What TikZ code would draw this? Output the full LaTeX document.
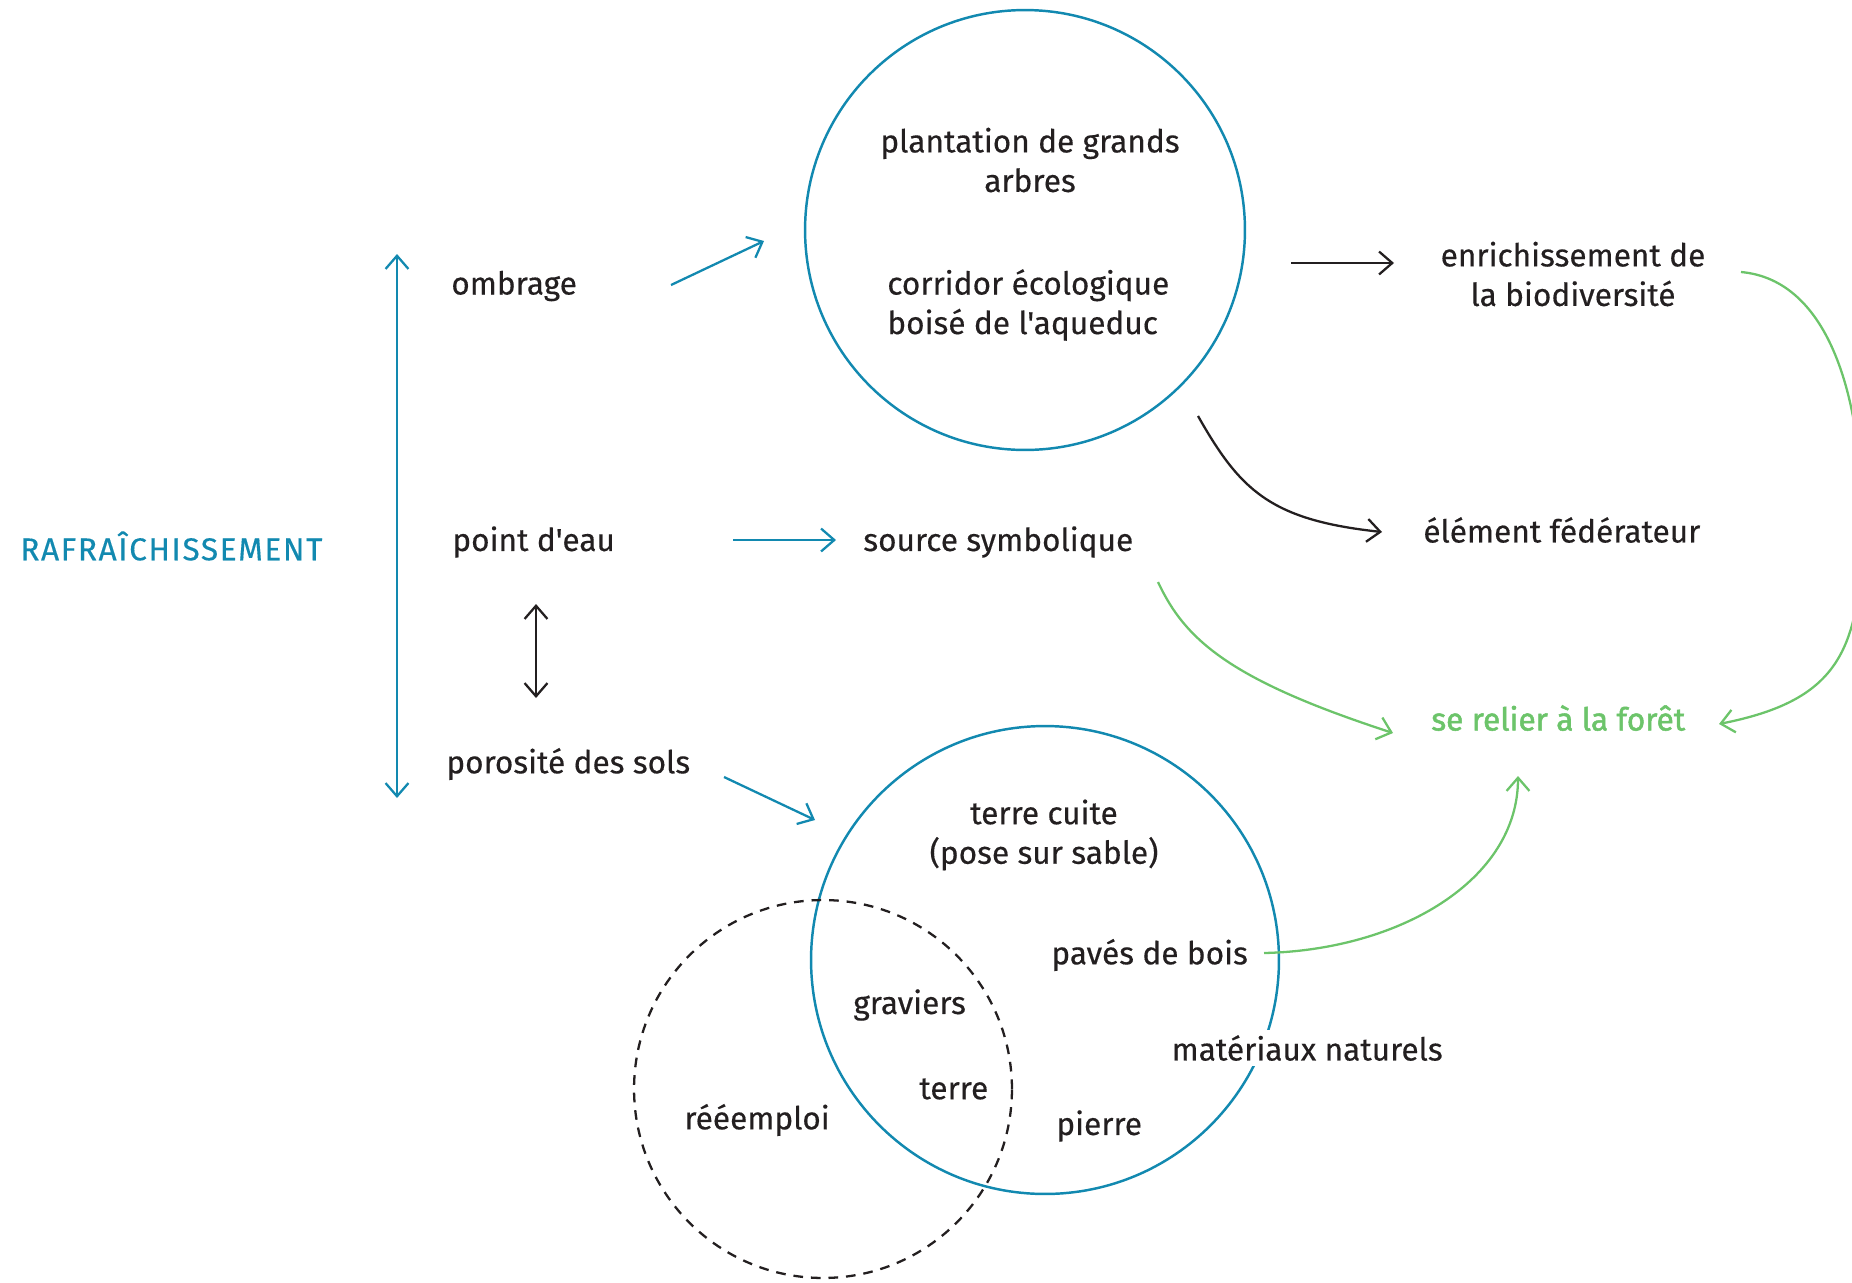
\documentclass[tikz,border=0pt]{standalone}
\usepackage{fontspec}
\setmainfont{Fira Sans}[Ligatures=TeXOff,FakeBold=0.35]
\newfontfamily\mediumfont{Fira Sans}[Ligatures=TeXOff,FakeBold=1.6]
\usetikzlibrary{arrows.meta,positioning,calc}
\definecolor{fresh}{HTML}{1289B0}
\definecolor{forest}{HTML}{6CC46A}
\definecolor{ink}{HTML}{231F20}
\tikzset{
  word/.style={font=\fontsize{18}{22.5}\selectfont, text=ink, inner sep=0pt},
  link/.style={-{Straight Barb[length=7.5pt,width=13pt]}, line width=1.3pt},
  both link/.style={{Straight Barb[length=7.5pt,width=13pt]}-{Straight Barb[length=7.5pt,width=13pt]}, line width=1.3pt},
  theme circle/.style={circle, draw=fresh, line width=1.4pt, inner sep=0pt},
}

\begin{document}
\begin{tikzpicture}[x=0.02cm,y=-0.02cm]
  \useasboundingbox (0,0) rectangle (1852,1282);

  % circles
  \node[theme circle, minimum size=8.8cm] (trees) at (1025,230) {};
  \node[theme circle, minimum size=9.36cm] (ground) at (1045,960) {};
  \node[circle, draw=ink, dash pattern=on 5.5pt off 4.5pt, line width=1.3pt,
    minimum size=7.56cm, inner sep=0pt] (reuse) at (823,1089) {};

  % left column
  \node[word, anchor=west, text=fresh, font=\fontsize{18}{22.5}\selectfont\addfontfeature{LetterSpace=5}] (rafr) at (20,546) {RAFRAÎCHISSEMENT};
  \node[word, anchor=west] (ombrage) at (451,286) {ombrage};
  \node[word, anchor=west] (eau) at (452,542) {point d'eau};
  \node[word, anchor=west] (porosite) at (446,764) {porosité des sols};

  % top circle
  \node[word, align=center] (arbres) at (1030,160) {plantation de grands\\arbres};
  \node[word, align=left, anchor=west] (corridor) at (887,305) {corridor écologique\\boisé de l'aqueduc};
  \node[word, anchor=west] (source) at (863,542) {source symbolique};

  % right column
  \node[word, align=center] (biodiv) at (1573,274) {enrichissement de\\la biodiversité};
  \node[word, anchor=west] (federe) at (1423,530) {élément fédérateur};
  \node[word, anchor=west, text=forest, font=\fontsize{18}{22.5}\mediumfont] (foret) at (1431,718) {se relier à la forêt};

  % bottom circles
  \node[word, align=center] (cuite) at (1044,835) {terre cuite\\(pose sur sable)};
  \node[word, anchor=west] (paves) at (1051,955) {pavés de bois};
  \node[word, anchor=west] (graviers) at (853,1005) {graviers};
  \node[word, anchor=west] (terre) at (919,1089) {terre};
  \node[word, anchor=west] (reemploi) at (684,1120) {rééemploi};
  \node[word, anchor=west] (pierre) at (1056,1126) {pierre};
  \node[word, anchor=west, fill=white, inner sep=3pt] (naturels) at (1166,1048) {matériaux naturels};

  % arrow ends
  \coordinate (fresh top) at (397,254);
  \coordinate (fresh bottom) at (397,798);
  \coordinate (eau top) at (536,604);
  \coordinate (eau bottom) at (536,698);
  \coordinate (ombrage out) at (671,285);
  \coordinate (trees in) at (764,241);
  \coordinate (eau out) at (733,540);
  \coordinate (source in) at (836,540);
  \coordinate (porosite out) at (724,777);
  \coordinate (ground in) at (815,820);
  \coordinate (trees out) at (1291,263);
  \coordinate (biodiv in) at (1394,263);
  \coordinate (trees low) at (1198,416);
  \coordinate (federe in) at (1382,532);
  \coordinate (source out) at (1158,582);
  \coordinate (foret left) at (1393,733);
  \coordinate (biodiv out) at (1741,272);
  \coordinate (foret right) at (1719,724);
  \coordinate (paves out) at (1264,953);
  \coordinate (foret below) at (1518,776);

  \draw[both link, fresh] (fresh top) -- (fresh bottom);
  \draw[both link, ink] (eau top) -- (eau bottom);
  \draw[link, fresh] (ombrage out) -- (trees in);
  \draw[link, fresh] (eau out) -- (source in);
  \draw[link, fresh] (porosite out) -- (ground in);
  \draw[link, ink] (trees out) -- (biodiv in);
  \draw[link, ink] (trees low) .. controls (1240,490) and (1270,520) .. (federe in);
  \draw[link, forest] (source out) .. controls (1185,640) and (1230,680) .. (foret left);
  \draw[link, forest] (biodiv out) .. controls (1830,280) and (1862,400) .. (1862,520)
    .. controls (1862,650) and (1840,700) .. (foret right);
  \draw[link, forest] (paves out) .. controls (1400,950) and (1518,880) .. (foret below);
\end{tikzpicture}
\end{document}
